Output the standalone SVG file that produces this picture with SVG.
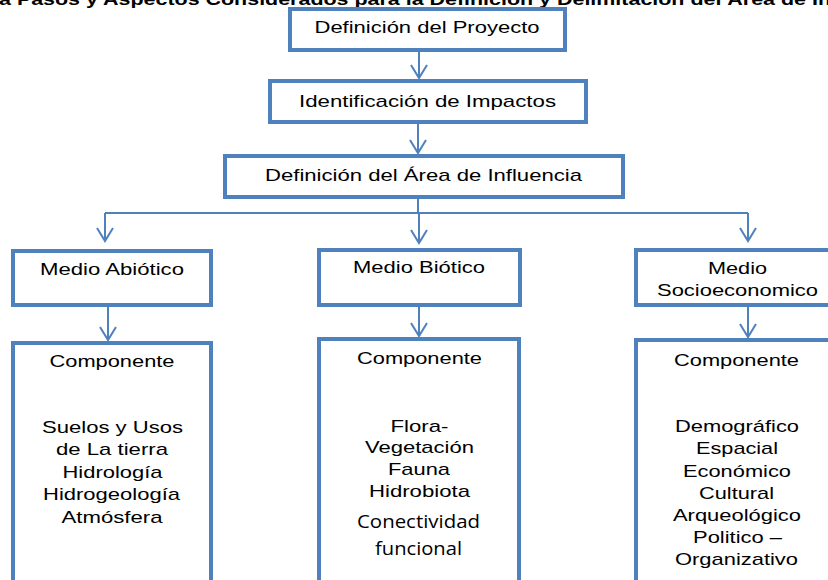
<svg xmlns="http://www.w3.org/2000/svg" width="828" height="580" viewBox="0 0 828 580">
<style>
.box{fill:#ffffff;stroke:#4F81BD;stroke-width:4}
.t{font-family:"Liberation Sans",Arial,sans-serif;font-size:17px;fill:#000000;text-anchor:middle}
.c{font-family:"Open Sans","Noto Sans",sans-serif;font-size:19px;fill:#000000;text-anchor:middle}
.ttl{font-family:"Liberation Sans",Arial,sans-serif;font-size:17px;font-weight:bold;fill:#000000}
.ln{fill:none;stroke:#4F81BD;stroke-width:2}
</style>
<defs>
<marker id="ah" markerUnits="userSpaceOnUse" markerWidth="18" markerHeight="20" refX="14" refY="9" orient="auto">
<path d="M1,1 L14,9 L1,17" fill="none" stroke="#4F81BD" stroke-width="2"/>
</marker>
</defs>
<rect width="828" height="580" fill="#ffffff"/>
<text class="ttl" x="-1" y="5" textLength="832" lengthAdjust="spacingAndGlyphs">a Pasos y Aspectos Considerados para la Definición y Delimitación del Área de In</text>
<g id="connectors">
<line class="ln" x1="419" y1="52" x2="419" y2="78" marker-end="url(#ah)"/>
<line class="ln" x1="418" y1="124" x2="418" y2="153" marker-end="url(#ah)"/>
<polyline class="ln" points="418,199 418,213"/>
<polyline class="ln" points="105,213 748,213"/>
<line class="ln" x1="105" y1="213" x2="105" y2="241" marker-end="url(#ah)"/>
<line class="ln" x1="419" y1="213" x2="419" y2="243" marker-end="url(#ah)"/>
<line class="ln" x1="748" y1="213" x2="748" y2="241" marker-end="url(#ah)"/>
<line class="ln" x1="108" y1="307" x2="108" y2="340" marker-end="url(#ah)"/>
<line class="ln" x1="419" y1="307" x2="419" y2="336" marker-end="url(#ah)"/>
<line class="ln" x1="748" y1="307" x2="748" y2="337" marker-end="url(#ah)"/>
</g>
<g id="n-proyecto">
<rect class="box" x="290" y="9" width="275" height="41"/>
<text class="t" x="427" y="33" textLength="225" lengthAdjust="spacingAndGlyphs">Definición del Proyecto</text>
</g>
<g id="n-impactos">
<rect class="box" x="270" y="81" width="316" height="41"/>
<text class="t" x="427.5" y="107" textLength="257" lengthAdjust="spacingAndGlyphs">Identificación de Impactos</text>
</g>
<g id="n-area">
<rect class="box" x="225" y="156" width="398" height="41"/>
<text class="t" x="423.5" y="181" textLength="317" lengthAdjust="spacingAndGlyphs">Definición del Área de Influencia</text>
</g>
<g id="n-abiotico">
<rect class="box" x="13" y="251" width="198" height="54"/>
<text class="t" x="112" y="275" textLength="144" lengthAdjust="spacingAndGlyphs">Medio Abiótico</text>
</g>
<g id="n-biotico">
<rect class="box" x="319" y="250" width="201" height="55"/>
<text class="t" x="419" y="273" textLength="132" lengthAdjust="spacingAndGlyphs">Medio Biótico</text>
</g>
<g id="n-socio">
<rect class="box" x="636" y="250" width="240" height="55"/>
<text class="t" x="737.5" y="274" textLength="59" lengthAdjust="spacingAndGlyphs">Medio</text>
<text class="t" x="737.5" y="296" textLength="161" lengthAdjust="spacingAndGlyphs">Socioeconomico</text>
</g>
<g id="n-comp-abiotico">
<rect class="box" x="13" y="343" width="198" height="260"/>
<text class="t" x="112" y="367" textLength="125" lengthAdjust="spacingAndGlyphs">Componente</text>
<text class="t" x="112.5" y="433" textLength="141" lengthAdjust="spacingAndGlyphs">Suelos y Usos</text>
<text class="t" x="112" y="455" textLength="112" lengthAdjust="spacingAndGlyphs">de La tierra</text>
<text class="t" x="112.5" y="478" textLength="100" lengthAdjust="spacingAndGlyphs">Hidrología</text>
<text class="t" x="111.5" y="500" textLength="137" lengthAdjust="spacingAndGlyphs">Hidrogeología</text>
<text class="t" x="112" y="523" textLength="101" lengthAdjust="spacingAndGlyphs">Atmósfera</text>
</g>
<g id="n-comp-biotico">
<rect class="box" x="319" y="339" width="200" height="260"/>
<text class="t" x="419.5" y="364" textLength="125" lengthAdjust="spacingAndGlyphs">Componente</text>
<text class="t" x="419.5" y="432" textLength="58" lengthAdjust="spacingAndGlyphs">Flora-</text>
<text class="t" x="419.5" y="453" textLength="109" lengthAdjust="spacingAndGlyphs">Vegetación</text>
<text class="t" x="419" y="475" textLength="62" lengthAdjust="spacingAndGlyphs">Fauna</text>
<text class="t" x="419.5" y="497" textLength="101" lengthAdjust="spacingAndGlyphs">Hidrobiota</text>
<text class="c" x="418.5" y="528" textLength="123" lengthAdjust="spacingAndGlyphs">Conectividad</text>
<text class="c" x="418.5" y="555" textLength="87" lengthAdjust="spacingAndGlyphs">funcional</text>
</g>
<g id="n-comp-socio">
<rect class="box" x="636" y="340" width="240" height="260"/>
<text class="t" x="736.5" y="366" textLength="125" lengthAdjust="spacingAndGlyphs">Componente</text>
<text class="t" x="737" y="432" textLength="124" lengthAdjust="spacingAndGlyphs">Demográfico</text>
<text class="t" x="737" y="454" textLength="82" lengthAdjust="spacingAndGlyphs">Espacial</text>
<text class="t" x="737" y="477" textLength="108" lengthAdjust="spacingAndGlyphs">Económico</text>
<text class="t" x="736.5" y="499" textLength="75" lengthAdjust="spacingAndGlyphs">Cultural</text>
<text class="t" x="737" y="521" textLength="128" lengthAdjust="spacingAndGlyphs">Arqueológico</text>
<text class="t" x="737.5" y="543" textLength="89" lengthAdjust="spacingAndGlyphs">Politico –</text>
<text class="t" x="736.5" y="565" textLength="123" lengthAdjust="spacingAndGlyphs">Organizativo</text>
</g>
</svg>
